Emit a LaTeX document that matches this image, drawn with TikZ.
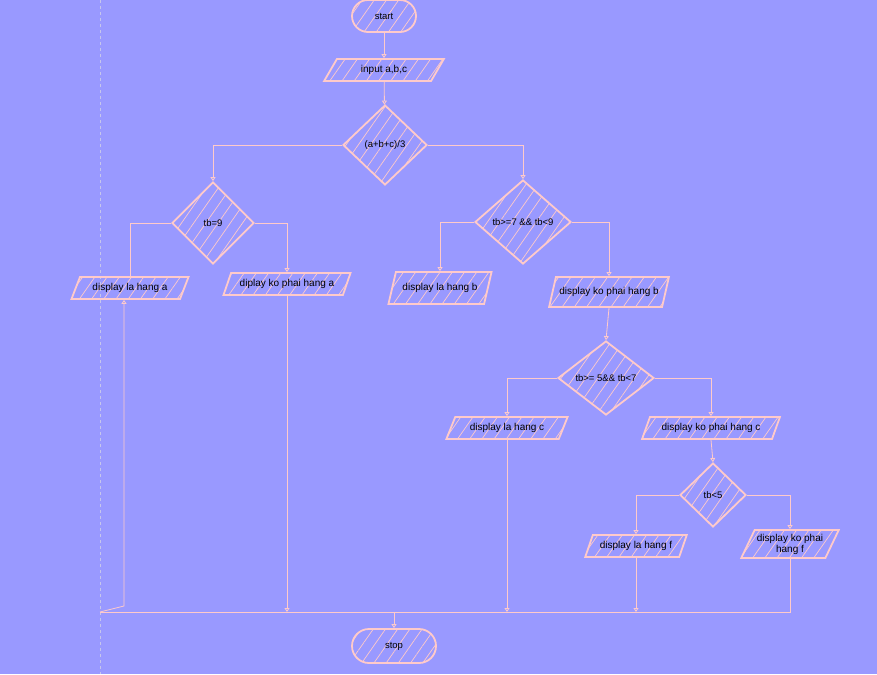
\documentclass[tikz,border=0pt]{standalone}
\usepackage{fontspec}
\setmainfont{Liberation Sans}
\usetikzlibrary{arrows.meta,positioning,shapes.geometric,patterns.meta}
\definecolor{canvas}{HTML}{9999FF}
\definecolor{rose}{HTML}{FFCACA}
\definecolor{guide}{HTML}{C6C6EC}
\tikzset{hatch/.style={pattern={Lines[angle=55,distance=10pt,line width=.7pt]},pattern color=rose},term/.style={draw=rose,line width=1.8pt,hatch,rounded corners=16pt,minimum width=64pt,minimum height=32pt,font=\fontsize{9.5}{10.5}\selectfont,inner sep=2pt},io/.style={trapezium,trapezium left angle=60,trapezium right angle=120,trapezium stretches=true,draw=rose,line width=1.8pt,hatch,align=center,font=\fontsize{10}{11}\selectfont,minimum height=22pt,inner sep=1pt},cond/.style={diamond,draw=rose,line width=1.8pt,hatch,font=\fontsize{9.5}{10.5}\selectfont,inner sep=0pt},flow/.style={-{Triangle[open,length=4pt,width=5pt]},line width=.8pt,draw=rose},link/.style={line width=.8pt,draw=rose}}

\begin{document}
\begin{tikzpicture}[x=1pt,y=-1pt]
\fill[canvas] (0,0) rectangle (877,674);\useasboundingbox (0,0) rectangle (877,674);
\draw[guide,dashed,line width=.8pt] (100,0)--(100,674);
% main column
\node[term] (start) at (384,16) {start};
\node[io,minimum width=120pt] (inp) at (384,70) {input a,b,c};
\node[cond,minimum width=84pt,minimum height=80pt] (avg) at (385,145) {(a+b+c)/3};
% branch tb=9
\node[cond,minimum width=82pt,minimum height=82pt] (c9) at (213,223) {tb=9};
\node[io,minimum width=118pt] (laa) at (130,288) {display la hang a};
\node[io,minimum width=127pt] (koa) at (287,284) {diplay ko phai hang a};
% branch tb>=7
\node[cond,minimum width=96pt,minimum height=84pt] (c7) at (523,222) {tb>=7 \&\& tb<9};
\node[io,minimum width=104pt,minimum height=32pt] (lab) at (440,288) {display la hang b};
\node[io,minimum width=120pt,minimum height=30pt] (kob) at (609,292) {display ko phai hang b};
% branch tb>=5
\node[cond,minimum width=96pt,minimum height=74pt] (c5) at (606,378) {tb>= 5\&\& tb<7};
\node[io,minimum width=122pt] (lac) at (507,428) {display la hang c};
\node[io,minimum width=138pt] (koc) at (711,428) {display ko phai hang c};
% branch tb<5
\node[cond,minimum width=66pt,minimum height=64pt] (c0) at (713,495) {tb<5};
\node[io,minimum width=102pt] (laf) at (636,546) {display la hang f};
\node[io,minimum width=98pt,minimum height=28pt] (kof) at (790,544) {display ko phai\\hang f};
\node[term,minimum width=84pt,minimum height=34pt,rounded corners=17pt] (stop) at (394,646) {stop};
\coordinate (mL) at (100,612);\coordinate (mK) at (124,606);
% connectors
\draw[flow] (start)--(inp);\draw[flow] (inp)--(avg);
\draw[flow] (avg.west)-|(c9.north);\draw[flow] (avg.east)-|(c7.north);
\draw[link] (c9.west)-|(laa.north);\draw[flow] (c9.east)-|(koa.north);
\draw[flow] (c7.west)-|(lab.north);\draw[flow] (c7.east)-|(kob.north);
\draw[flow] (kob.south)--(c5.north);
\draw[flow] (c5.west)-|(lac.north);\draw[flow] (c5.east)-|(koc.north);
\draw[flow] (koc.south)--(c0.north);
\draw[flow] (c0.west)-|(laf.north);\draw[flow] (c0.east)-|(kof.north);
\draw[link] (kof.south)|-(mL);
\draw[flow] (mL)--(mK)--(mK|-laa.south);
\draw[flow] (koa.south)--(koa.south|-mL);\draw[flow] (lac.south)--(lac.south|-mL);\draw[flow] (laf.south)--(laf.south|-mL);
\draw[flow] (stop.north|-mL)--(stop.north);
\end{tikzpicture}
\end{document}
